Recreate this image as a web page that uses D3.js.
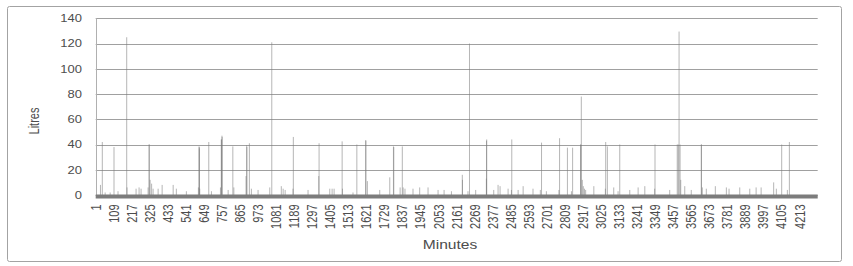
<!DOCTYPE html>
<html><head><meta charset="utf-8">
<script src="https://cdn.jsdelivr.net/npm/d3@7/dist/d3.min.js"></script>
<style>html,body{margin:0;padding:0;background:#fff;} svg{display:block;}</style>
</head><body>
<svg id="chart" width="853" height="266"></svg>
<script>
// ---- data (minute index, litres) ----
const totalMinutes = 4320;
const spikeMinutes = [40,110,186,320,321,619,620,621,677,752,753,756,757,821,904,905,920,1054,1183,1337,1475,1563,1616,1617,1782,1784,1835,2237,2339,2340,2490,2668,2776,2823,2854,2902,2903,2906,3052,3062,3136,3347,3480,3486,3491,3497,3624,3625,4105,4151];
const spikeLitres  = [42,38,125,40,40,38.5,38,37,42,44,44,47,46,38.5,39.5,38,41,121,46,41,42.5,40,43.5,43,38.5,38,38.5,120,43,44,44,41.5,45,37.5,37.5,40,40,78,42,38.5,40,40,40,40,129.5,40,40,40,40,42];
const smallMinutes = [29,57,87,134,188,242,260,272,314,326,335,344,374,398,464,483,543,615,623,693,747,793,827,900,932,972,1042,1111,1122,1134,1181,1271,1335,1401,1415,1427,1477,1540,1626,1700,1760,1822,1840,1851,1899,1939,1989,2049,2085,2129,2194,2195,2228,2274,2338,2382,2408,2420,2468,2488,2528,2558,2617,2661,2697,2772,2847,2912,2918,2925,2932,2981,3050,3100,3126,3196,3246,3286,3345,3435,3501,3525,3564,3630,3654,3708,3774,3790,3854,3914,3952,3982,4057,4073,4139];
const smallLitres  = [8,2,2,3,6,5,6,5,6,12,9,5,5,8,8,5,3,6,5,3,6,4,6,15,5,4,6,7,5,4,5,4,15,5,5,5,5,2,11,4,14,6,6,5,5,6,6,4,4,3,16,12,3,4,13,4,8,7,5,4,4,7,5,4,3,4,3,12,7,5,4,7,5,6,3,4,6,7,5,4,12,7,4,6,5,7,6,5,6,5,6,6,10,5,4];
const yTicks = [0,20,40,60,80,100,120,140];
const xTickLabels = ["1","109","217","325","433","541","649","757","865","973","1081","1189","1297","1405","1513","1621","1729","1837","1945","2053","2161","2269","2377","2485","2593","2701","2809","2917","3025","3133","3241","3349","3457","3565","3673","3781","3889","3997","4105","4213"];

// build the per-minute series
const minutes = d3.range(1, totalMinutes + 1);
const litres = new Array(totalMinutes).fill(0);
smallMinutes.forEach((m, i) => { litres[m - 1] = Math.max(litres[m - 1], smallLitres[i]); });
spikeMinutes.forEach((m, i) => { litres[m - 1] = Math.max(litres[m - 1], spikeLitres[i]); });
const series = minutes.map((m, i) => ({minute: m, value: litres[i]})).filter(d => d.value > 0);

const svg = d3.select("#chart");
const plotL = 95.7, plotR = 817.7, plotT = 18.3, plotB = 195;
const x = d3.scaleBand().domain(minutes).range([plotL, plotR]).padding(0);
const y = d3.scaleLinear().domain([0, 140]).range([plotB, plotT]);
const bw = x.bandwidth();
const textCol = "#4d4d4d";

// outer frame
svg.append("rect").attr("x", 7.5).attr("y", 6.5).attr("width", 834).attr("height", 255)
  .attr("rx", 2).attr("fill", "#fff").attr("stroke", "#a3a3a3").attr("stroke-width", 1);

// gridlines
svg.append("g").selectAll("line").data(yTicks).join("line")
  .attr("x1", plotL).attr("x2", plotR)
  .attr("y1", d => Math.round(y(d)) + 0.5).attr("y2", d => Math.round(y(d)) + 0.5)
  .attr("stroke", "#a0a0a0").attr("stroke-width", 1);

// vertical axis line
svg.append("line").attr("x1", Math.round(plotL) + 0.5).attr("x2", Math.round(plotL) + 0.5)
  .attr("y1", y(140)).attr("y2", y(0)).attr("stroke", "#b0b0b0");

// bars
svg.append("g").selectAll("rect").data(series).join("rect")
  .attr("x", d => x(d.minute) + bw / 2 - 0.5)
  .attr("width", 1)
  .attr("y", d => y(d.value))
  .attr("height", d => y(0) - y(d.value))
  .attr("fill", "#7a7a7a").attr("fill-opacity", 0.55);

// category axis band (dense tick marks)
svg.append("rect").attr("x", plotL).attr("y", y(0) - 0.5).attr("width", plotR - plotL).attr("height", 4)
  .attr("fill", "#7c7c7c");

// y tick labels
svg.append("g").selectAll("text").data(yTicks).join("text")
  .attr("transform", d => `translate(82,${y(d)}) scale(1.18,1)`)
  .attr("text-anchor", "end").attr("dy", "0.35em")
  .style("font-family", "'Liberation Sans', Arial, sans-serif").style("font-size", "11px")
  .attr("fill", textCol).text(d => d);

// x tick labels
svg.append("g").selectAll("text").data(xTickLabels).join("text")
  .attr("transform", d => `translate(${x(+d) + bw / 2},204.5) scale(1.25,1) rotate(-90)`)
  .attr("text-anchor", "end").attr("dy", "0.35em")
  .style("font-family", "'Liberation Sans', Arial, sans-serif").style("font-size", "11px")
  .attr("fill", textCol).text(d => d);

// axis titles
svg.append("text").attr("transform", "translate(450,249) scale(1.3,1)")
  .attr("text-anchor", "middle")
  .style("font-family", "'Liberation Sans', Arial, sans-serif").style("font-size", "12px")
  .attr("fill", textCol).text("Minutes");
svg.append("text").attr("transform", "translate(34,121) scale(1.3,1) rotate(-90)")
  .attr("text-anchor", "middle").attr("dy", "0.35em")
  .style("font-family", "'Liberation Sans', Arial, sans-serif").style("font-size", "11px")
  .attr("fill", textCol).text("Litres");
</script>
</body></html>
